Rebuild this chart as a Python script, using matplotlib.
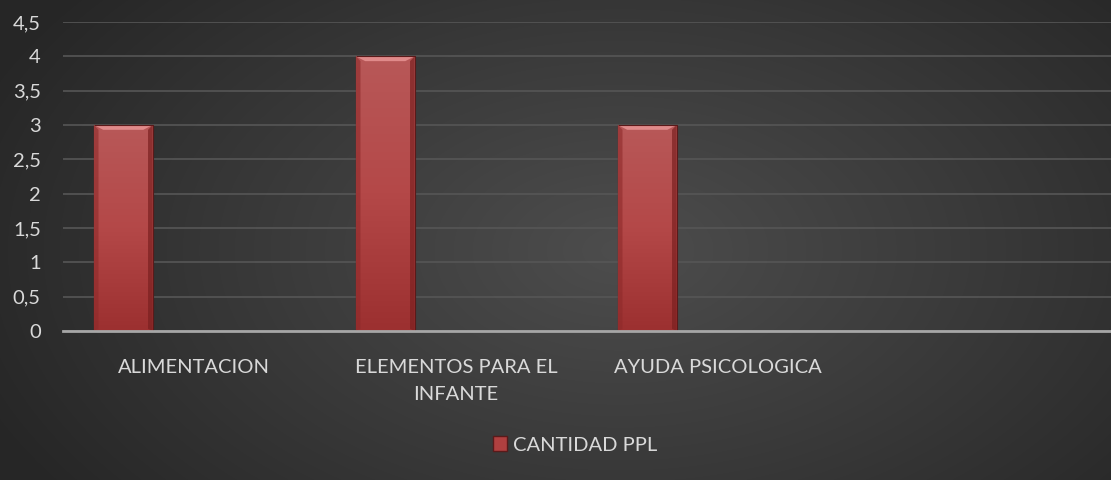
import numpy as np
import matplotlib
matplotlib.use("Agg")
import matplotlib.pyplot as plt
from matplotlib.patches import Polygon, Rectangle, Patch
from matplotlib.colors import LinearSegmentedColormap

categories = ["ALIMENTACION", "ELEMENTOS PARA EL\nINFANTE", "AYUDA PSICOLOGICA", ""]
values = [3, 4, 3, None]
series_name = "CANTIDAD PPL"
yticks = [0, 0.5, 1, 1.5, 2, 2.5, 3, 3.5, 4, 4.5]
ytick_labels = ["0", "0,5", "1", "1,5", "2", "2,5", "3", "3,5", "4", "4,5"]

plt.rcParams['font.family'] = ['Lato', 'DejaVu Sans']

fig = plt.figure(figsize=(11.11, 4.8), dpi=100)

# radial gradient background
bg = fig.add_axes([0, 0, 1, 1], zorder=-10)
yy, xx = np.mgrid[0:480, 0:1111]
cx, cy = 620, 250
r = np.sqrt(((xx - cx) / 700.0) ** 2 + ((yy - cy) / 420.0) ** 2)
r = np.clip(r, 0, 1)
cmap_bg = LinearSegmentedColormap.from_list("bg", ["#4d4d4d", "#3a3a3a", "#262626"])
bg.imshow(r, cmap=cmap_bg, aspect='auto', extent=[0, 1, 0, 1], vmin=0, vmax=1)
bg.set_axis_off()

ax = fig.add_axes([63 / 1111, 1 - 331 / 480, 1 - 63 / 1111, 309 / 480])
ax.patch.set_alpha(0)
ax.set_xlim(-0.5, 3.5)
ax.set_ylim(0, 4.5)

x = np.arange(len(categories))
bw = 0.225
off = -0.27
vals = [v if v is not None else 0 for v in values]
bars = ax.bar(x + off, vals, width=bw, color="#a83a3a", edgecolor="#5a1a1a", linewidth=0.8, zorder=3)

grad_cmap = LinearSegmentedColormap.from_list("bar", ["#9c3030", "#b44848", "#b85858"])
for b, v in zip(bars, values):
    if v is None:
        b.set_visible(False)
        continue
    x0, w, h = b.get_x(), b.get_width(), b.get_height()
    im = ax.imshow(np.linspace(0, 1, 100).reshape(-1, 1), cmap=grad_cmap, origin='lower',
                   extent=[x0, x0 + w, 0, h], aspect='auto', zorder=3.5)
    im.set_clip_path(b)
    bx = w * 0.16
    by = 0.07
    top = Polygon([[x0, h], [x0 + w, h], [x0 + w - bx, h - by], [x0 + bx, h - by]],
                  closed=True, facecolor="#e08a8a", edgecolor="none", zorder=4)
    ax.add_patch(top)
    left = Polygon([[x0, h], [x0 + bx * 0.5, h - by], [x0 + bx * 0.5, 0.03], [x0, 0]],
                   closed=True, facecolor="#8e2a2a", edgecolor="none", alpha=0.6, zorder=4)
    right = Polygon([[x0 + w, h], [x0 + w - bx * 0.5, h - by], [x0 + w - bx * 0.5, 0.03], [x0 + w, 0]],
                    closed=True, facecolor="#7a2020", edgecolor="none", alpha=0.7, zorder=4)
    ax.add_patch(left)
    ax.add_patch(right)
    ax.add_patch(Rectangle((x0, h), w, 0, fill=False, edgecolor="#5a1a1a", linewidth=0.8, zorder=4.5))

ax.set_yticks(yticks)
ax.set_yticklabels(ytick_labels)
ax.set_xticks(x)
ax.set_xticklabels(categories, linespacing=1.75)
ax.tick_params(axis='both', length=0, colors="#d9d9d9", labelsize=14.5)
ax.tick_params(axis='y', pad=16)
ax.tick_params(axis='x', pad=20)

ax.grid(axis='y', color="#565656", linewidth=1.2, zorder=0)
for s in ['top', 'right', 'left']:
    ax.spines[s].set_visible(False)
ax.spines['bottom'].set_color("#a6a6a6")
ax.spines['bottom'].set_linewidth(2)
ax.spines['bottom'].set_zorder(5)

fig.legend(handles=[Patch(facecolor="#b04040", edgecolor="#5a1a1a", label=series_name)],
           loc='center', bbox_to_anchor=(0.5 + 20 / 1111, 1 - 445 / 480), frameon=False,
           fontsize=14.5, handlelength=0.7, handleheight=0.7, handletextpad=0.3,
           labelcolor="#d9d9d9")

fig.savefig("out.png", dpi=100)
